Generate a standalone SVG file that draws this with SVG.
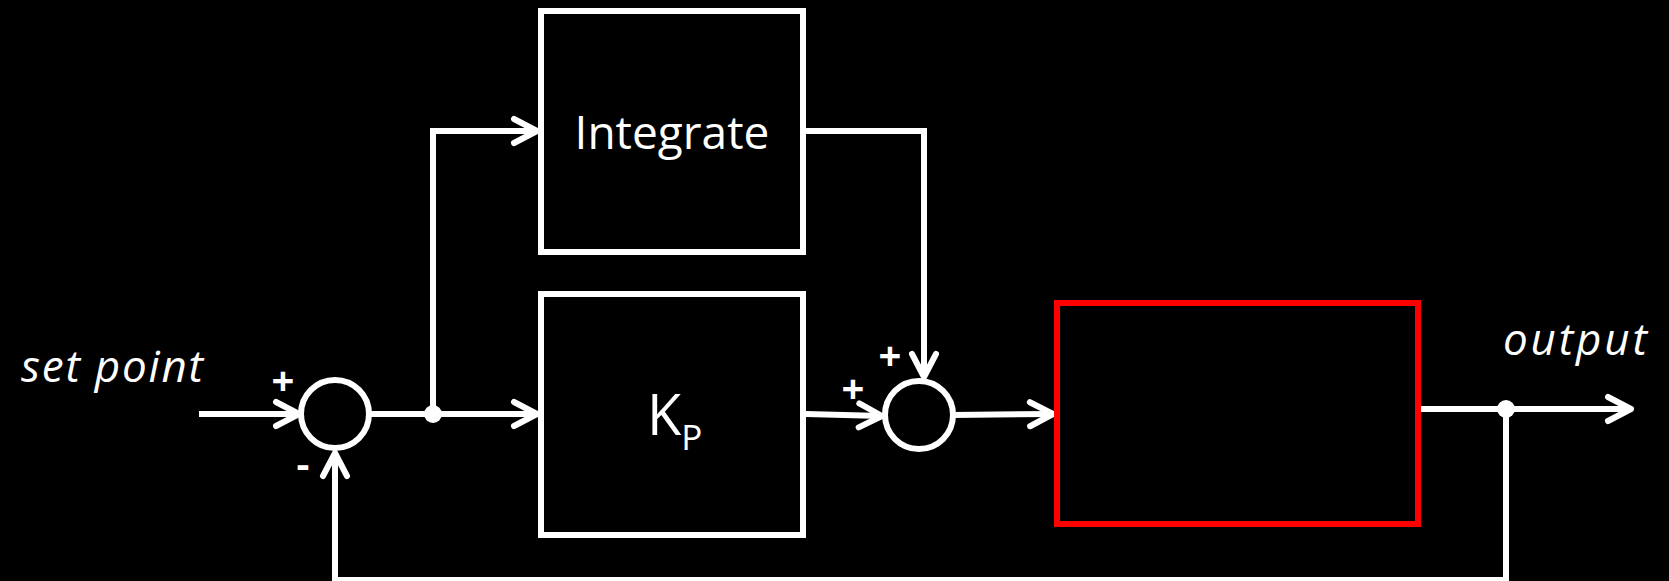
<svg xmlns="http://www.w3.org/2000/svg" width="1669" height="581" viewBox="0 0 1669 581">
<style>
.ln{fill:none;stroke:#fff;stroke-width:6;stroke-linejoin:miter}
.box{fill:#000;stroke:#fff;stroke-width:6}
.red{fill:#000;stroke:#ff0000;stroke-width:6}
.sum{fill:#000;stroke:#fff;stroke-width:6}
.dot{fill:#fff}
.t{fill:#fff;font-family:"Open Sans","Liberation Sans",sans-serif}
.it{font-style:italic;font-size:44px}
.sg{font-weight:bold;font-size:40px;text-anchor:middle}
</style>
<defs>
<marker id="arr" markerUnits="userSpaceOnUse" markerWidth="40" markerHeight="40" refX="0" refY="0" viewBox="-30 -20 40 40" orient="auto" overflow="visible">
<path d="M-23,-12 L0,0 L-23,12" fill="none" stroke="#fff" stroke-width="6" stroke-linecap="round" stroke-linejoin="round"/>
</marker>
</defs>
<rect x="0" y="0" width="1669" height="581" fill="#000"/>
<g id="connectors">
<path class="ln" d="M199,414 L299,414" marker-end="url(#arr)"/>
<path class="ln" d="M369,414 L537,414" marker-end="url(#arr)"/>
<path class="ln" d="M433,414 L433,131 L537,131" marker-end="url(#arr)"/>
<path class="ln" d="M803,131 L924,131 L924,377" marker-end="url(#arr)"/>
<path class="ln" d="M806,414 L882,416" marker-end="url(#arr)"/>
<path class="ln" d="M953,415 L1053,414" marker-end="url(#arr)"/>
<path class="ln" d="M1421,409 L1631,409" marker-end="url(#arr)"/>
<path class="ln" d="M1506,409 L1506,580 L335,580 L335,453" marker-end="url(#arr)"/>
<circle class="dot" cx="433" cy="414" r="9"/>
<circle class="dot" cx="1506" cy="409" r="9"/>
</g>
<g id="setpoint">
<text class="t it" x="21" y="382" textLength="182">set point</text>
</g>
<g id="sum1">
<circle class="sum" cx="335" cy="414" r="34"/>
<text class="t sg" x="283" y="395">+</text>
<text class="t sg" x="303" y="478">-</text>
</g>
<g id="integrate">
<rect class="box" x="541" y="11" width="262" height="241"/>
<text class="t" x="672" y="149" font-size="46" text-anchor="middle">Integrate</text>
</g>
<g id="kp">
<rect class="box" x="541" y="294" width="262" height="241"/>
<text class="t" x="647" y="435" font-size="56">K<tspan font-size="35" dy="15">P</tspan></text>
</g>
<g id="sum2">
<circle class="sum" cx="919" cy="415" r="34"/>
<text class="t sg" x="890" y="370">+</text>
<text class="t sg" x="853" y="403">+</text>
</g>
<g id="plant">
<rect class="red" x="1057" y="303" width="361" height="221"/>
</g>
<g id="output">
<text class="t it" x="1503" y="355" textLength="144">output</text>
</g>
</svg>
